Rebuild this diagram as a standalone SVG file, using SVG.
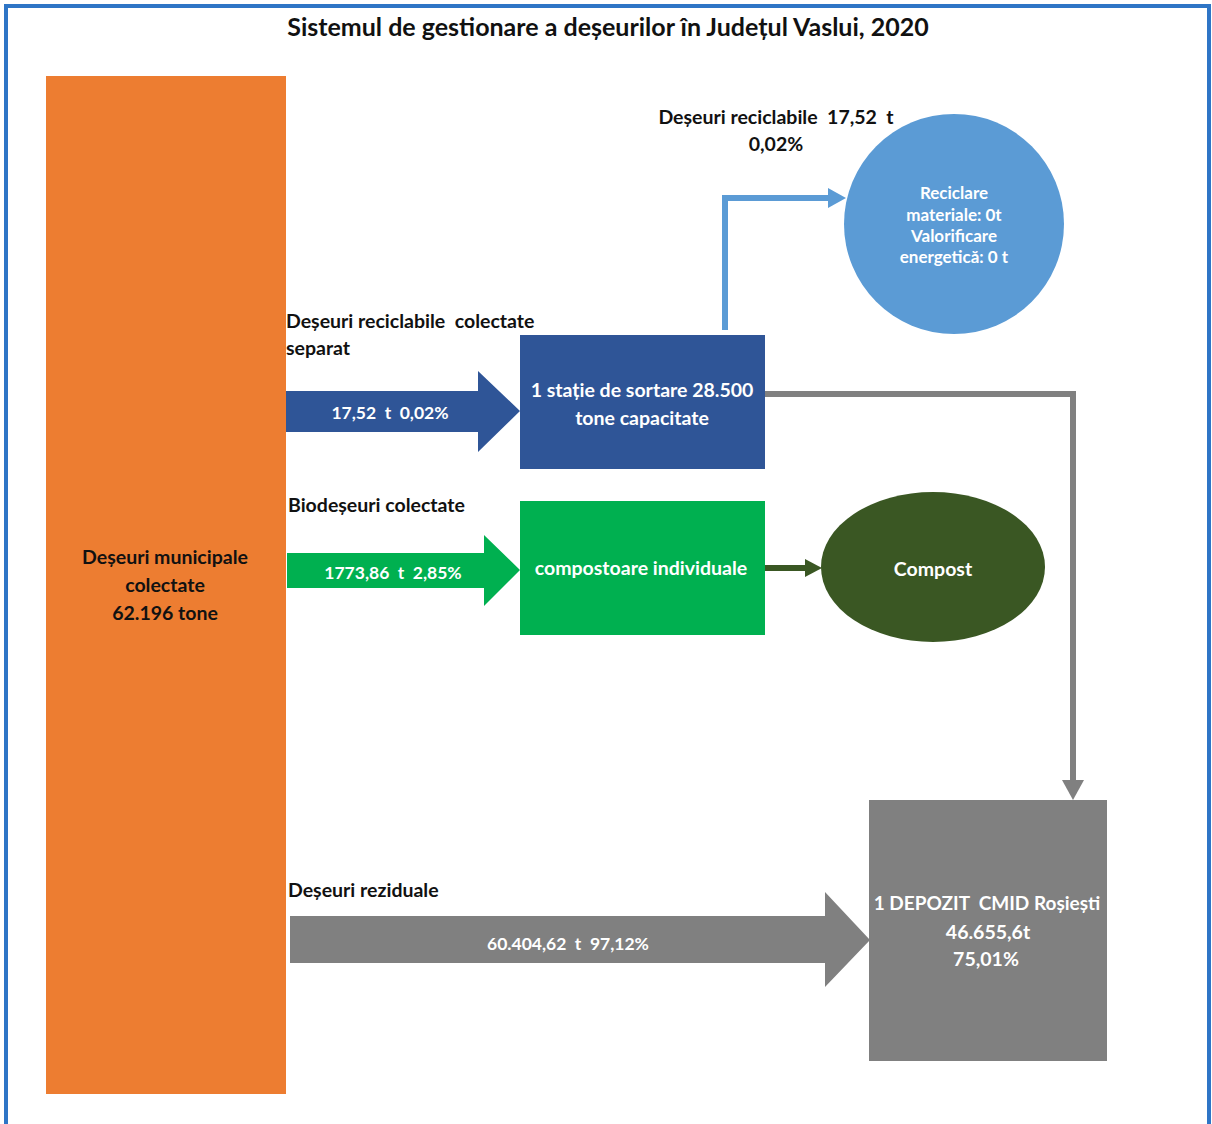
<svg xmlns="http://www.w3.org/2000/svg" width="1212" height="1124" viewBox="0 0 1212 1124">
<style>
  text { font-family: Lato, "Open Sans", "Liberation Sans", sans-serif; font-weight: bold; white-space: pre; }
  .lbl { font-size: 19.5px; fill: #111111; }
  .wht { fill: #ffffff; font-size: 19.5px; }
  .arr { fill: #ffffff; font-size: 17.5px; }
  .sm { fill: #ffffff; font-size: 17px; }
  .c { text-anchor: middle; }
</style>
<defs>
  <marker id="mBlue" viewBox="0 0 18 20" refX="0" refY="10" markerWidth="18" markerHeight="20" markerUnits="userSpaceOnUse" orient="auto">
    <path d="M0,0 L18,10 L0,20 z" fill="#5B9BD5"/>
  </marker>
  <marker id="mGray" viewBox="0 0 20 22" refX="0" refY="11" markerWidth="20" markerHeight="22" markerUnits="userSpaceOnUse" orient="auto">
    <path d="M0,0 L20,11 L0,22 z" fill="#808080"/>
  </marker>
  <marker id="mGreen" viewBox="0 0 17 18" refX="0" refY="9" markerWidth="17" markerHeight="18" markerUnits="userSpaceOnUse" orient="auto">
    <path d="M0,0 L17,9 L0,18 z" fill="#3A5723"/>
  </marker>
</defs>
<rect x="0" y="0" width="1212" height="1124" fill="#ffffff"/>
<rect x="6" y="6" width="1203" height="1140" fill="none" stroke="#2E75C6" stroke-width="4"/>
<text x="608" y="36" class="c" style="font-size:25px;fill:#111">Sistemul de gestionare a deșeurilor în Județul Vaslui, 2020</text>

<g id="connectors" fill="none">
  <path d="M725,330 V198 H828" stroke="#5B9BD5" stroke-width="6" marker-end="url(#mBlue)"/>
  <path d="M765,394 H1073 V780" stroke="#808080" stroke-width="6" marker-end="url(#mGray)"/>
  <path d="M765,568 H805" stroke="#3A5723" stroke-width="6" marker-end="url(#mGreen)"/>
</g>

<g id="municipal">
  <rect x="46" y="76" width="240" height="1018" fill="#ED7D31"/>
  <text x="165" y="564" class="lbl c">Deșeuri municipale</text>
  <text x="165" y="592" class="lbl c">colectate</text>
  <text x="165" y="620" class="lbl c">62.196 tone</text>
</g>

<g id="arrow-reciclabile">
  <text x="286" y="328" class="lbl">Deșeuri reciclabile  colectate</text>
  <text x="286" y="355" class="lbl">separat</text>
  <polygon points="286,391 478,391 478,371 520,411 478,452 478,432 286,432" fill="#2F5597"/>
  <text x="390" y="419" class="arr c">17,52  t  0,02%</text>
</g>

<g id="statie">
  <rect x="520" y="335" width="245" height="134" fill="#2F5597"/>
  <text x="642" y="397" class="wht c">1 stație de sortare 28.500</text>
  <text x="642" y="425" class="wht c">tone capacitate</text>
</g>

<g id="reciclare">
  <text x="776" y="124" class="lbl c">Deșeuri reciclabile  17,52  t</text>
  <text x="776" y="151" class="lbl c">0,02%</text>
  <circle cx="954" cy="224" r="110" fill="#5B9BD5"/>
  <text x="954" y="199" class="sm c">Reciclare</text>
  <text x="954" y="221" class="sm c">materiale: 0t</text>
  <text x="954" y="242" class="sm c">Valorificare</text>
  <text x="954" y="263" class="sm c">energetică: 0 t</text>
</g>

<g id="arrow-bio">
  <text x="288" y="512" class="lbl">Biodeșeuri colectate</text>
  <polygon points="287,553 484,553 484,535 520,570 484,606 484,588 287,588" fill="#00B050"/>
  <text x="393" y="579" class="arr c">1773,86  t  2,85%</text>
</g>

<g id="compostoare">
  <rect x="520" y="501" width="245" height="134" fill="#00B050"/>
  <text x="641" y="575" class="wht c">compostoare individuale</text>
</g>

<g id="compost">
  <ellipse cx="933" cy="567" rx="112" ry="75" fill="#3A5723"/>
  <text x="933" y="576" class="wht c">Compost</text>
</g>

<g id="arrow-reziduale">
  <text x="288" y="897" class="lbl">Deșeuri reziduale</text>
  <polygon points="290,916 825,916 825,892 870,940 825,987 825,963 290,963" fill="#808080"/>
  <text x="568" y="950" class="arr c">60.404,62  t  97,12%</text>
</g>

<g id="depozit">
  <rect x="869" y="800" width="238" height="261" fill="#808080"/>
  <text x="987" y="910" class="wht c" style="font-size:19px">1 DEPOZIT  CMID Roșiești</text>
  <text x="988" y="939" class="wht c">46.655,6t</text>
  <text x="986" y="966" class="wht c">75,01%</text>
</g>
</svg>
